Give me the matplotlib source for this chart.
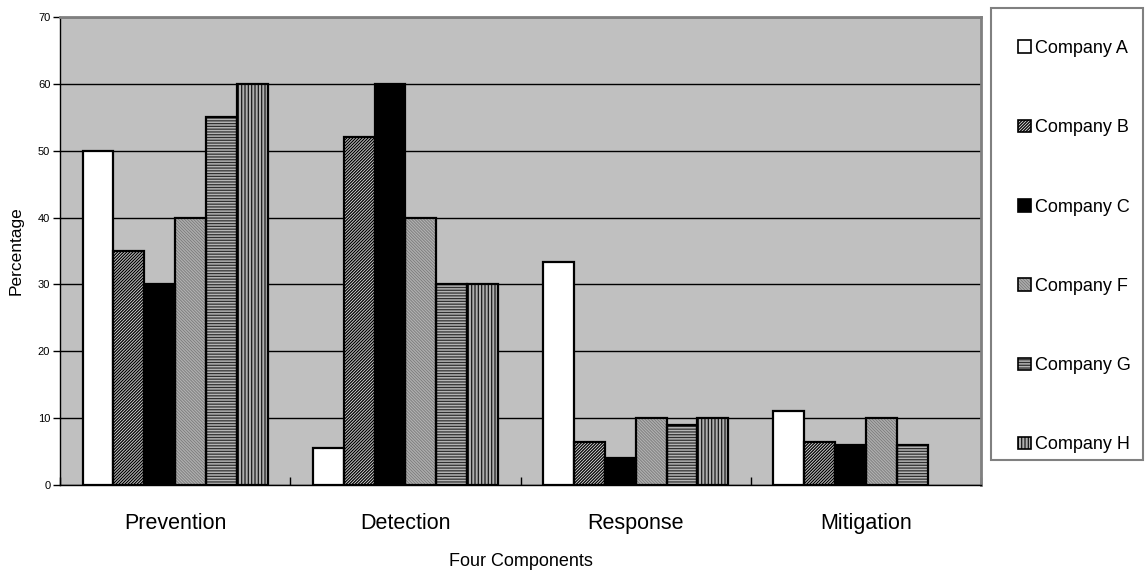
import numpy as np
import matplotlib
matplotlib.use('Agg')
import matplotlib.pyplot as plt
from matplotlib.patches import Patch, Rectangle

plt.rcParams['font.family'] = ['Liberation Sans', 'DejaVu Sans']
plt.rcParams['hatch.linewidth'] = 0.9

### DATA

components = ['Prevention', 'Detection', 'Response', 'Mitigation']
companies = ['Company A', 'Company B', 'Company C', 'Company F', 'Company G', 'Company H']
company_a = [50, 5.5, 33.3, 11]
company_b = [35, 52, 6.5, 6.5]
company_c = [30, 60, 4, 6]
company_f = [40, 40, 10, 10]
company_g = [55, 30, 9, 6]
company_h = [60, 30, 10, np.nan]  # no Mitigation bar for H
yticks = [0, 10, 20, 30, 40, 50, 60, 70]

values = [company_a, company_b, company_c, company_f, company_g, company_h]

# face colour, hatch, hatch colour per company
styles = [
    ('white', '', 'black'),
    ('#d8d8d8', '/' * 11, 'black'),
    ('black', '', 'black'),
    ('#7c7c7c', '\\' * 11, '#b0b0b0'),
    ('#b4b4b4', '------', '#303030'),
    ('#b0b0b0', '|||||', '#1a1a1a'),
]

### CHART

fig = plt.figure(figsize=(11.45, 5.71), dpi=100)
ax = fig.add_axes([0.0524, 0.1506, 0.8044, 0.8196])
ax.set_facecolor('#c0c0c0')

x = np.arange(len(components))
w = 0.134
handles = []
for j, (vals, (fc, hatch, hc)) in enumerate(zip(values, styles)):
    pos = x + (j - 2.5) * w
    ax.bar(pos, vals, w, color=fc, hatch=hatch, edgecolor=hc, linewidth=0, zorder=2)
    ax.bar(pos, vals, w, fill=False, edgecolor='black', linewidth=1.6, zorder=3)
    handles.append((Patch(facecolor=fc, hatch=hatch, edgecolor=hc, linewidth=0),
                    Patch(fill=False, edgecolor='black', linewidth=1.2)))

ax.set_xlim(-0.5, 3.5)
ax.set_ylim(0, 70)
ax.set_yticks(yticks)
ax.yaxis.grid(True, color='black', linewidth=1)
ax.set_axisbelow(True)
ax.tick_params(axis='y', labelsize=8, length=5, width=1, pad=2)

ax.set_xticks(x)
ax.set_xticklabels(components, fontsize=15.5)
ax.tick_params(axis='x', length=0, pad=20)
ax.set_xticks(np.arange(-0.5, 4, 1), minor=True)
ax.tick_params(axis='x', which='minor', direction='in', length=6, width=1)

ax.set_xlabel('Four Components', fontsize=13, labelpad=14)
ax.set_ylabel('Percentage', fontsize=12.5, labelpad=10)

for side in ['left', 'bottom']:
    ax.spines[side].set_color('black')
    ax.spines[side].set_linewidth(1)
for side in ['top', 'right']:
    ax.spines[side].set_color('#808080')
    ax.spines[side].set_linewidth(2)

# legend box
fig.patches.append(Rectangle((991 / 1145, 1 - 460 / 571), 152 / 1145, 452 / 571,
                             transform=fig.transFigure, facecolor='white',
                             edgecolor='#808080', linewidth=1.5))
fig.legend(handles, companies, loc='upper left', bbox_to_anchor=(1018 / 1145, 1 - 40 / 571),
           frameon=False, fontsize=13, borderpad=0, borderaxespad=0,
           handlelength=0.7, handleheight=0.7, handletextpad=0.25, labelspacing=3.45)

plt.savefig('out.png', dpi=100)
